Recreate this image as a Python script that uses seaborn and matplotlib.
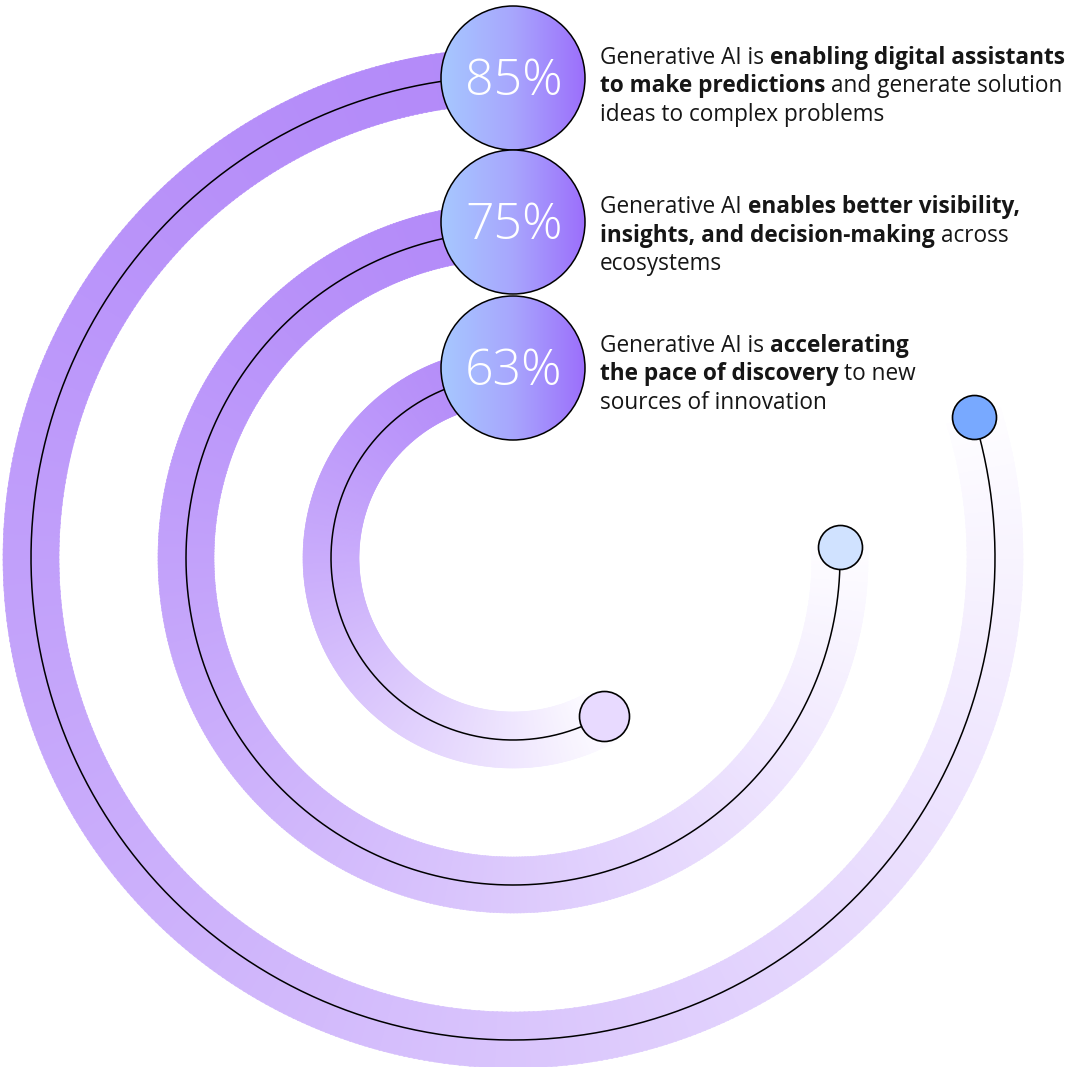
import numpy as np
import pandas as pd
import matplotlib
matplotlib.use("Agg")
import matplotlib.pyplot as plt
import seaborn as sns
from matplotlib.collections import PolyCollection
from matplotlib.patches import Circle
from matplotlib.colors import to_rgb, LinearSegmentedColormap

# ---------------- data ----------------
values = [85, 75, 63]
value_labels = ["85%", "75%", "63%"]
statements = [
    ["Generative AI is **enabling digital assistants**",
     "**to make predictions** and generate solution",
     "ideas to complex problems"],
    ["Generative AI **enables better visibility,**",
     "**insights, and decision-making** across",
     "ecosystems"],
    ["Generative AI is **accelerating**",
     "**the pace of discovery** to new",
     "sources of innovation"],
]

# ---------------- layout / style ----------------
W, H = 1070, 1067
CX, CY = 513, 558
radii = [482, 327, 182]
arc_sweep = [287, 272, 210]          # degrees drawn counter-clockwise from top
band_w = 56
band_start = "#b38af9"
bubble_y = [78, 222, 368]
bubble_r = 72
dot_r = [22, 22, 25]
dot_colors = ["#78a9ff", "#d0e2ff", "#e8daff"]
text_x = 600
text_base = [63.5, 213, 351.5]
line_h = 28.7
body_size = 16.3
body_font = "Open Sans"
pct_font = "Open Sans"

sns.set_theme(style="white")
plt.rcParams["font.family"] = [body_font, "DejaVu Sans"]

fig = plt.figure(figsize=(W / 100, H / 100), dpi=100)
ax = fig.add_axes([0, 0, 1, 1])
ax.set_xlim(0, W)
ax.set_ylim(H, 0)
ax.axis("off")

def pt(r, deg):
    a = np.deg2rad(deg)
    return CX + r * np.cos(a), CY - r * np.sin(a)

# ---- gradient bands ----
c0 = np.array(to_rgb(band_start))
white = np.ones(3)
for r, sw in zip(radii, arc_sweep):
    n = 500
    th = np.linspace(90, 90 + sw, n + 1)
    polys, cols = [], []
    for i in range(n):
        a0, a1 = th[i], th[i + 1] + 0.15
        ang = np.linspace(a0, a1, 3)
        outer = [pt(r + band_w / 2, a) for a in ang]
        inner = [pt(r - band_w / 2, a) for a in ang[::-1]]
        polys.append(outer + inner)
        t = (i + 0.5) / n
        f = 0.985 * t ** 1.45
        cols.append(c0 * (1 - f) + white * f)
    pc = PolyCollection(polys, facecolors=cols, edgecolors=cols, linewidths=0.4, zorder=1)
    ax.add_collection(pc)

# ---- thin black arc lines (seaborn) ----
rows = []
for k, (r, sw) in enumerate(zip(radii, arc_sweep)):
    th = np.linspace(90, 90 + sw, 400)
    x, y = pt(r, th)
    rows.append(pd.DataFrame({"x": x, "y": y, "arc": k}))
df_lines = pd.concat(rows, ignore_index=True)
sns.lineplot(data=df_lines, x="x", y="y", units="arc", estimator=None, sort=False,
             color="black", linewidth=1.1, ax=ax, legend=False, zorder=3)

# ---- end dots (seaborn) ----
ends = [pt(r, 90 + sw) for r, sw in zip(radii, arc_sweep)]
df_dots = pd.DataFrame({"x": [e[0] for e in ends], "y": [e[1] for e in ends],
                        "label": value_labels})
sizes = [(2 * rr * 0.72) ** 2 for rr in dot_r]
for i in range(len(df_dots)):
    sns.scatterplot(data=df_dots.iloc[[i]], x="x", y="y", s=sizes[i], color=dot_colors[i],
                    edgecolor="black", linewidth=1.2, ax=ax, legend=False, zorder=4)

ax.set_xlabel("")
ax.set_ylabel("")

# ---- bubbles ----
bub_cmap = LinearSegmentedColormap.from_list("bub", ["#a6c8ff", "#a8a6fd", "#9c6ffb"])
grad = np.tile(np.linspace(0, 1, 256), (2, 1))
for k, (by, lab) in enumerate(zip(bubble_y, value_labels)):
    im = ax.imshow(grad, cmap=bub_cmap, aspect="auto", interpolation="bilinear",
                   extent=[CX - bubble_r, CX + bubble_r, by + bubble_r, by - bubble_r],
                   zorder=5 + k * 0.1)
    clip = Circle((CX, by), bubble_r, transform=ax.transData, facecolor="none")
    im.set_clip_path(clip)
    ax.add_patch(Circle((CX, by), bubble_r, facecolor="none", edgecolor="black",
                        linewidth=1.1, zorder=5.05 + k * 0.1))
    ax.text(CX + 1, by + 17, lab, ha="center", va="baseline", color="white",
            fontsize=36, fontweight="light", family=[pct_font, "DejaVu Sans"],
            zorder=6)

ax.set_xlim(0, W)
ax.set_ylim(H, 0)

# ---- rich text statements ----
renderer = fig.canvas.get_renderer()

def text_width(s, bold):
    t = ax.text(0, 0, s, fontsize=body_size, fontweight="bold" if bold else "normal")
    w = t.get_window_extent(renderer=renderer).width
    t.remove()
    return w

space_w = {b: text_width("x x", b) - text_width("xx", b) for b in (False, True)}

for k, lines in enumerate(statements):
    for j, line in enumerate(lines):
        y = text_base[k] + j * line_h
        cur = text_x
        parts = line.split("**")
        for p_i, seg in enumerate(parts):
            if seg == "":
                continue
            bold = (p_i % 2 == 1)
            lead = len(seg) - len(seg.lstrip(" "))
            trail = len(seg) - len(seg.rstrip(" "))
            cur += lead * space_w[bold]
            s = seg.strip(" ")
            t = ax.text(cur, y, s, fontsize=body_size, va="baseline", ha="left",
                        fontweight="bold" if bold else "normal", color="#161616", zorder=7)
            cur += t.get_window_extent(renderer=renderer).width
            cur += trail * space_w[bold]

fig.savefig("out.png", dpi=100, facecolor="white")
